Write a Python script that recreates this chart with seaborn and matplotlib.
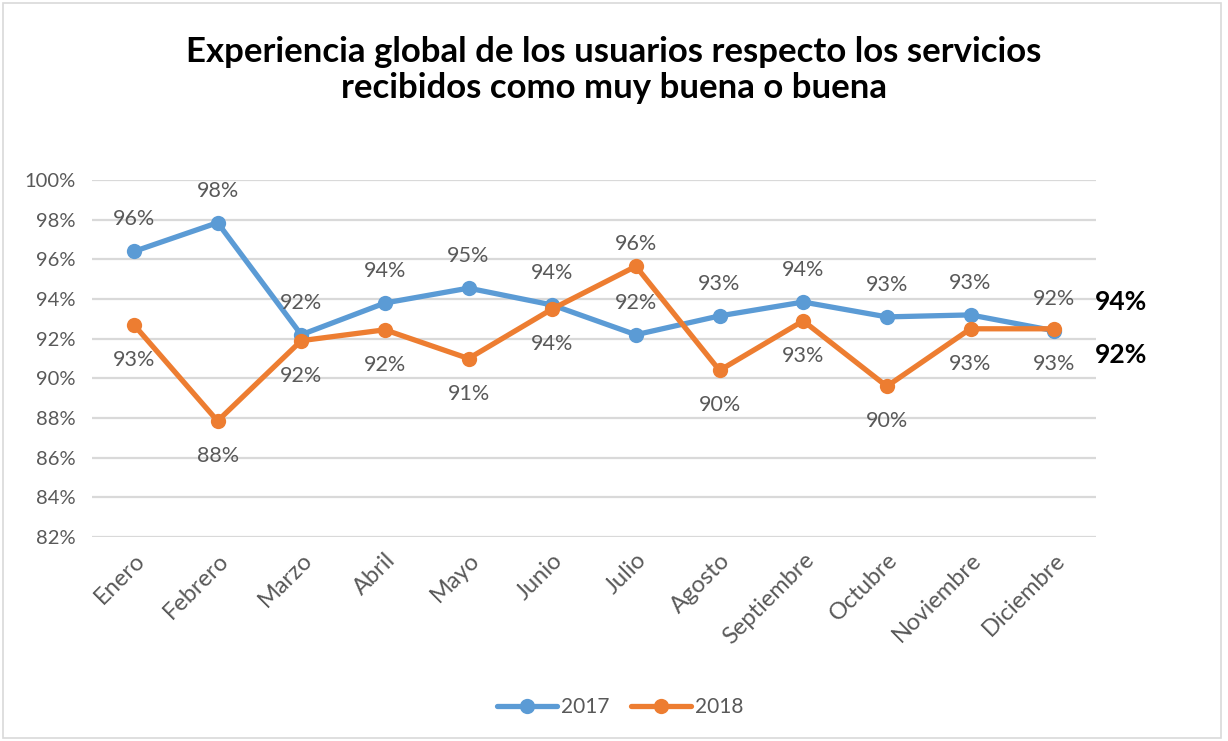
import matplotlib
matplotlib.use("Agg")
import matplotlib.pyplot as plt
import matplotlib.patches as mpatches
from matplotlib.ticker import PercentFormatter, MultipleLocator
import seaborn as sns
import pandas as pd

# data (percent)
months = ["Enero", "Febrero", "Marzo", "Abril", "Mayo", "Junio", "Julio",
          "Agosto", "Septiembre", "Octubre", "Noviembre", "Diciembre"]
values_2017 = [96.4, 97.85, 92.2, 93.8, 94.55, 93.7, 92.2, 93.15, 93.85, 93.1, 93.2, 92.4]
values_2018 = [92.7, 87.85, 91.9, 92.45, 91.0, 93.5, 95.65, 90.4, 92.9, 89.6, 92.5, 92.5]
label_2017 = ["96%", "98%", "92%", "94%", "95%", "94%", "92%", "93%", "94%", "93%", "93%", "92%"]
label_2018 = ["93%", "88%", "92%", "92%", "91%", "94%", "96%", "90%", "93%", "90%", "93%", "93%"]
annual_labels = ["94%", "92%"]

sns.set_theme(style="white")
plt.rcParams['font.family'] = ['Lato', 'DejaVu Sans']

df = pd.concat([
    pd.DataFrame({"Mes": months, "Valor": values_2017, "Año": "2017"}),
    pd.DataFrame({"Mes": months, "Valor": values_2018, "Año": "2018"}),
])

colors = {"2017": "#5B9BD5", "2018": "#ED7D31"}
grey = "#595959"

fig = plt.figure(figsize=(12.28, 7.41), dpi=100)
ax = fig.add_axes([0.075, 0.2753, 0.8175, 0.4817])

sns.lineplot(data=df, x="Mes", y="Valor", hue="Año", palette=colors,
             marker="o", markersize=11, markeredgewidth=0, linewidth=3.8,
             sort=False, ax=ax, legend=True, zorder=3)

ax.set_ylim(82, 100)
ax.set_xlim(-0.5, len(months) - 0.5)
ax.yaxis.set_major_locator(MultipleLocator(2))
ax.yaxis.set_major_formatter(PercentFormatter(decimals=0))
ax.grid(axis="y", color="#D9D9D9", linewidth=1.6, zorder=0)
ax.grid(axis="x", visible=False)
ax.set_axisbelow(True)
for s in ax.spines.values():
    s.set_visible(False)
ax.set_xlabel("")
ax.set_ylabel("")
ax.tick_params(axis="y", labelsize=14.5, labelcolor=grey, length=0, pad=12)
ax.tick_params(axis="x", labelsize=17, labelcolor=grey, length=0, pad=9)
plt.setp(ax.get_xticklabels(), rotation=45, ha="right", rotation_mode="anchor")

# data labels
for i, (v, t) in enumerate(zip(values_2017, label_2017)):
    ax.annotate(t, (i, v), xytext=(0, 32), textcoords="offset pixels",
                ha="center", va="center", fontsize=15.5, color=grey)
for i, (v, t) in enumerate(zip(values_2018, label_2018)):
    dy = 22 if months[i] == "Julio" else -35
    ax.annotate(t, (i, v), xytext=(0, dy), textcoords="offset pixels",
                ha="center", va="center", fontsize=15.5, color=grey)

# annual figures at the right
ax.text(0.999, 0.658, annual_labels[0], transform=ax.transAxes, ha="left",
        va="center", fontsize=19, fontweight="bold", color="black")
ax.text(0.999, 0.51, annual_labels[1], transform=ax.transAxes, ha="left",
        va="center", fontsize=19, fontweight="bold", color="black")

fig.suptitle("Experiencia global de los usuarios respecto los servicios\n"
             "recibidos como muy buena o buena",
             x=0.5, y=0.905, va="center", fontsize=25, fontweight="bold",
             color="black", linespacing=1.15)

handles, labels = ax.get_legend_handles_labels()
ax.legend(handles, labels, loc="center", bbox_to_anchor=(0.505, 0.046),
          bbox_transform=fig.transFigure, ncol=2, frameon=False,
          fontsize=15, labelcolor=grey, handlelength=2.9, columnspacing=1.0,
          handletextpad=0.2)

fig.patches.append(mpatches.Rectangle((3 / 1228, 3 / 741), 1218 / 1228, 735 / 741,
                                      transform=fig.transFigure, fill=False,
                                      edgecolor="#D9D9D9", linewidth=1.2))

fig.savefig("out.png", dpi=100)
